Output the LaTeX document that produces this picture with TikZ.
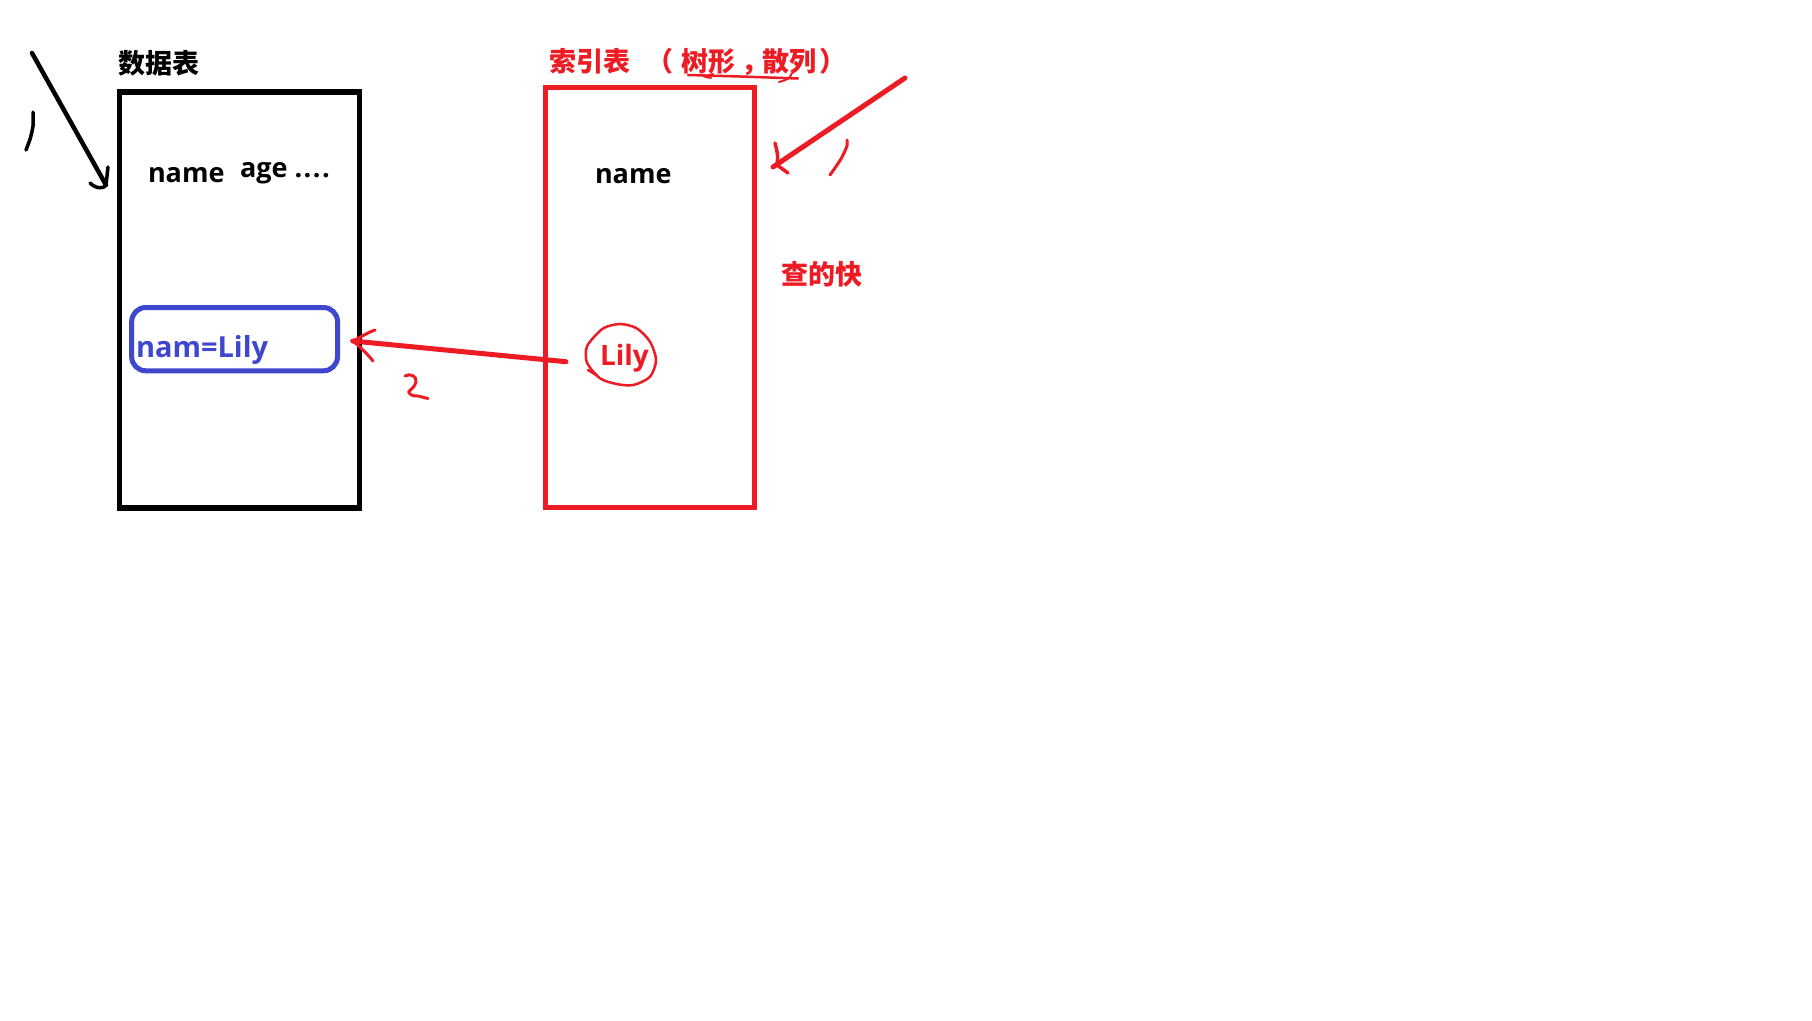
\documentclass[tikz,border=0pt]{standalone}
\usepackage{fontspec}
\setmainfont{Open Sans}
\newfontfamily\cjk{Noto Sans CJK SC}
\definecolor{pred}{RGB}{237,28,36}
\definecolor{pblue}{RGB}{63,72,204}
\begin{document}
\begin{tikzpicture}[x=1pt,y=-1pt,
  lbl/.style={inner sep=0pt, outer sep=0pt, anchor=base west, font=\fontsize{27}{31}\selectfont\bfseries},
  lblbig/.style={lbl, font=\fontsize{29}{33}\selectfont\bfseries},
  lblmid/.style={lbl, font=\fontsize{28}{32}\selectfont\bfseries},
  cjklbl/.style={lbl, font=\fontsize{27}{31}\selectfont\cjk\bfseries},
  tablebox/.style={draw, inner sep=0pt, outer sep=0pt, anchor=north west},
  pen/.style={line cap=round, line join=round},
  bpen/.style={pen, draw=black},
  rpen/.style={pen, draw=pred}]
\useasboundingbox (0,0) rectangle (1812,1020);
\fill[white] (0,0) rectangle (1812,1020);

% tables
\node[tablebox, draw=black, line width=5.5pt, minimum width=240pt, minimum height=416pt] (datatab) at (119.5,92) {};
\node[tablebox, draw=pred, line width=5pt, minimum width=209pt, minimum height=420pt] (indextab) at (545.5,87) {};
\node[tablebox, draw=pblue, line width=5pt, rounded corners=14pt, minimum width=205.8pt, minimum height=63.3pt] (row) at (131.7,307.5) {};

% titles
\node[cjklbl] (t1) at (118,73.5) {数据表};
\node[cjklbl, text=pred] (t2a) at (549,71.5) {索引表};
\node[cjklbl, text=pred] (t2b) at (646,71.5) {（};
\node[cjklbl, text=pred] (t2c) at (681,71.5) {树形};
\node[cjklbl, text=pred] (t2d) at (741,71.5) {，};
\node[cjklbl, text=pred] (t2e) at (762,71.5) {散列};
\node[cjklbl, text=pred] (t2f) at (819,71.5) {）};
\node[cjklbl, text=pred] (t3) at (781,284.5) {查的快};

% texts
\node[lbl] (n1) at (148,182) {name};
\node[lbl] (n2) at (240,177) {age .\kern1.5pt.\kern1.5pt.\kern1.5pt.};
\node[lbl] (n3) at (595,183) {name};
\node[lblbig, text=pblue] (n4) at (136,357.7) {nam=Lily};
\node[lblmid, text=pred] (n5) at (600,365) {Lily};

% circle round Lily
\draw[rpen, line width=2.5pt] plot[smooth cycle] coordinates {(590,341.7) (603.3,328.3) (620,324) (636.7,328.3) (650,341.7) (656,360) (650,376.7) (633.3,385) (616.7,384) (600,378.3) (587.3,363.3) (586,350)};
\draw[rpen, line width=2.5pt] (588,370) -- (597,375.5);

% arrow 1 (black)
\coordinate (a1s) at (32,53);
\coordinate (a1e) at (106,185);
\draw[bpen, line width=4.5pt] (a1s) -- (a1e);
\draw[bpen, line width=3.5pt] (90,183) .. controls (96,189) and (104,189) .. (a1e) -- (108,167);
\draw[bpen, line width=3.5pt] (33,112) -- (33,126) .. controls (31,137) .. (26,150);

% arrow 1 (red)
\coordinate (r1s) at (905,78);
\coordinate (r1e) at (773,167);
\draw[rpen, line width=5pt] (r1s) -- (r1e);
\draw[rpen, line width=3.5pt] (775,143) .. controls (778,155) .. (777,165) -- (788,173);
\draw[rpen, line width=3pt] (847,140) -- (847,146) .. controls (842,158) .. (830,175);

% arrow 2 (red)
\coordinate (r2s) at (566,361.7);
\coordinate (r2e) at (352.7,341);
\draw[rpen, line width=5pt] (r2s) -- (r2e);
\draw[rpen, line width=3pt] (375,330) .. controls (366,333) and (360,338) .. (r2e) .. controls (358,345) and (364,350) .. (373,361);
\draw[rpen, line width=3pt] (405,376) .. controls (410,373) and (417,376) .. (416,382) .. controls (415,387) and (410,390) .. (408.5,392) -- (410,394) .. controls (413,396) .. (418,396) -- (428,398.5);

% underline
\draw[rpen, line width=2.5pt] (688,75) -- (740,76.5) -- (798,78.5);
\draw[rpen, line width=2pt] (713,74) -- (704,76.5) -- (711,78);
\draw[rpen, line width=2pt] (792,73) .. controls (789,79) .. (779,82);
\end{tikzpicture}
\end{document}
